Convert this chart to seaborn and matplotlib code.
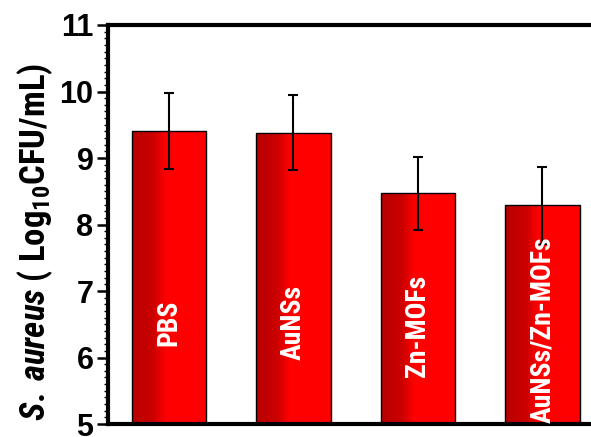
import numpy as np
import pandas as pd
import matplotlib
matplotlib.use("Agg")
import matplotlib.pyplot as plt
import seaborn as sns
from matplotlib import font_manager as fm
from matplotlib.colors import LinearSegmentedColormap
from matplotlib.ticker import MultipleLocator

# Bacterial counts per treatment group
groups = ["PBS", "AuNSs", "Zn-MOFs", "AuNSs/Zn-MOFs"]
log_cfu = [9.41, 9.38, 8.47, 8.29]
sd = [0.57, 0.56, 0.55, 0.58]
label_y = [6.52, 6.52, 6.47, 6.42]


def first_installed(candidates):
    names = {f.name for f in fm.fontManager.ttflist}
    for c in candidates:
        if c in names:
            return c
    return "DejaVu Sans"


base_font = first_installed(["Liberation Sans", "Arial"])
narrow_font = first_installed(["Liberation Sans Narrow", "Arial Narrow", "Roboto Condensed",
                               "Archivo Narrow", "Barlow Semi Condensed", "Liberation Sans"])

sns.set_theme(style="white")
plt.rcParams["font.family"] = [base_font, "DejaVu Sans"]
plt.rcParams["font.weight"] = "bold"
for key in ["text.color", "axes.labelcolor", "xtick.color", "ytick.color", "axes.edgecolor"]:
    plt.rcParams[key] = "black"
plt.rcParams["mathtext.fontset"] = "custom"
plt.rcParams["mathtext.rm"] = f"{narrow_font}:bold"
plt.rcParams["mathtext.it"] = f"{narrow_font}:italic:bold"
plt.rcParams["mathtext.bf"] = f"{narrow_font}:bold"

fig = plt.figure(figsize=(5.91, 4.37), dpi=100)
ax = fig.add_axes([0.1827, 0.0297, 0.83, 0.9131])

df = pd.DataFrame({"group": groups, "value": log_cfu})
sns.barplot(data=df, x="group", y="value", color="red", width=0.6,
            edgecolor="black", linewidth=1.0, ax=ax, errorbar=None)

ax.set_ylim(5, 11)
ax.set_xlim(-0.49, 3.45)

# Shaded fill: darker red on the left side of each bar
cmap = LinearSegmentedColormap.from_list(
    "shade", [(0.0, "#b80000"), (0.28, "#cc0000"), (0.45, "#ff0000"), (1.0, "#ff0000")])
grad = np.linspace(0, 1, 256).reshape(1, -1)
for p in ax.patches:
    x0, w, h = p.get_x(), p.get_width(), p.get_height()
    im = ax.imshow(grad, cmap=cmap, aspect="auto", extent=[x0, x0 + w, 5, h],
                   origin="lower", zorder=p.get_zorder() + 0.1)
    im.set_clip_path(p)
    p.set_facecolor("none")
    p.set_zorder(p.get_zorder() + 0.2)

ax.errorbar(np.arange(len(groups)), log_cfu, yerr=sd, fmt="none",
            ecolor="black", elinewidth=1.5, capsize=3.6, capthick=1.5, zorder=5)

for i, (g, ly) in enumerate(zip(groups, label_y)):
    ax.text(i, ly, g, rotation=90, color="white", fontsize=20, fontweight="bold",
            family=narrow_font, ha="center", va="center", zorder=6)

ax.set_xlabel("")
ax.set_xticks([])
ax.set_ylabel(r"$\mathit{S.\;aureus}$ ( Log$_{\mathrm{10}}$CFU/mL)", fontsize=25,
              fontweight="bold", family=narrow_font)
ax.yaxis.set_label_coords(-0.108, 0.456)

ax.yaxis.set_major_locator(MultipleLocator(1))
ax.yaxis.set_minor_locator(MultipleLocator(0.1))
ax.tick_params(axis="y", which="major", direction="out", length=8, width=1.8,
               labelsize=22, pad=2.5, left=True)
ax.tick_params(axis="y", which="minor", direction="out", length=3, width=1.0, left=True)
for lab in ax.get_yticklabels():
    lab.set_fontweight("bold")

for s in ["left", "bottom", "top"]:
    ax.spines[s].set_visible(True)
    ax.spines[s].set_color("black")
    ax.spines[s].set_linewidth(3)
ax.spines["right"].set_visible(False)

fig.savefig("out.png", dpi=100)
